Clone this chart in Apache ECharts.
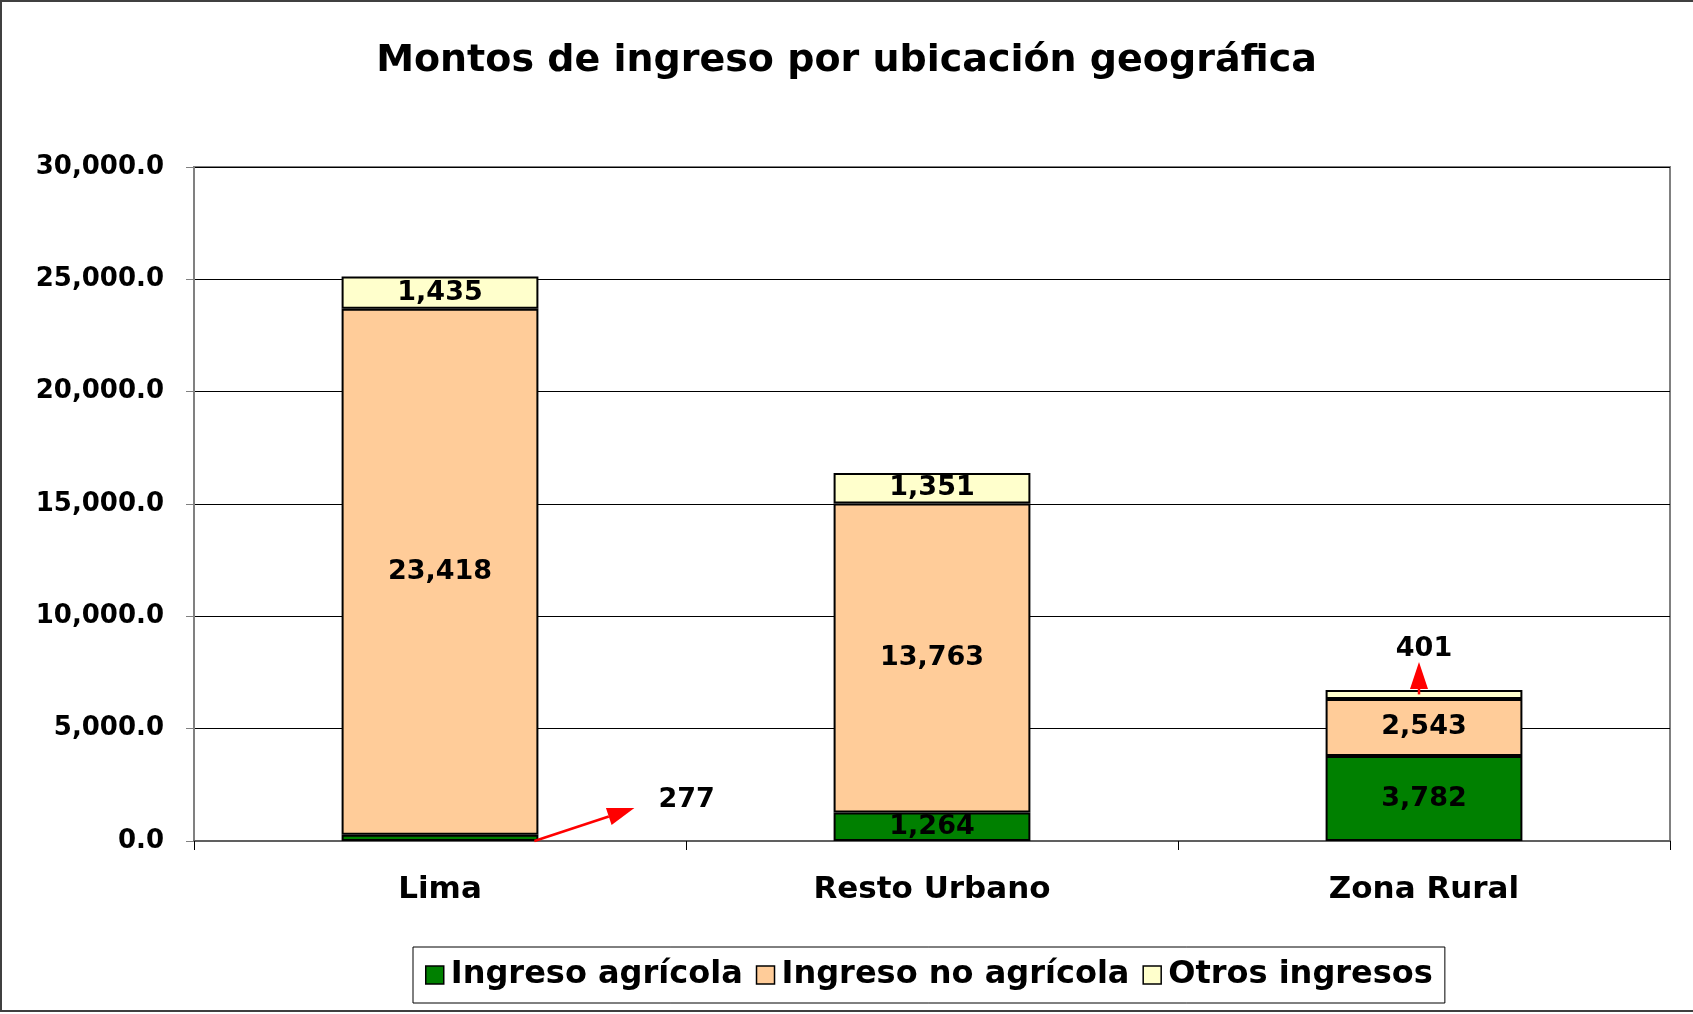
<!DOCTYPE html>
<html>
<head>
<meta charset="utf-8">
<title>Montos de ingreso por ubicación geográfica</title>
<script src="https://cdn.jsdelivr.net/npm/echarts@6/dist/echarts.min.js"></script>
<style>
  html, body { margin: 0; padding: 0; background: #fff; }
  #main { width: 1693px; height: 1014px; }
</style>
</head>
<body>
<div id="main"></div>
<script type="text/javascript">
// datos
var categories = ['Lima', 'Resto Urbano', 'Zona Rural'];
var ingresoAgricola = [277, 1264, 3782];
var ingresoNoAgricola = [23418, 13763, 2543];
var otrosIngresos = [1435, 1351, 401];
var seriesNames = ['Ingreso agrícola', 'Ingreso no agrícola', 'Otros ingresos'];
var yMin = 0, yMax = 30000, yStep = 5000;

var FONT = 'DejaVu Sans';

function fmt(v) {
    return Number(v).toLocaleString('en-US');
}

var labelBase = {
    show: true,
    position: 'inside',
    color: '#000',
    fontFamily: FONT,
    fontWeight: 'bold',
    fontSize: 27,
    formatter: function (p) { return fmt(p.value); }
};

// Lima agricola: etiqueta afuera (se dibuja flecha aparte)
var agricolaData = ingresoAgricola.map(function (v, i) {
    if (i === 0) {
        return { value: v, label: { position: [345, -35], align: 'center', verticalAlign: 'middle' } };
    }
    return v;
});
// Zona Rural otros: etiqueta arriba
var otrosData = otrosIngresos.map(function (v, i) {
    if (i === 2) {
        return { value: v, label: { position: 'top', distance: 27 } };
    }
    return v;
});

var colors = ['#008000', '#FFCC99', '#FFFFCC'];

var chart = echarts.init(document.getElementById('main'));

var option = {
    animation: false,
    backgroundColor: '#fff',
    title: {
        text: 'Montos de ingreso por ubicación geográfica',
        left: 'center',
        top: 37,
        textStyle: { fontFamily: FONT, fontWeight: 'bold', fontSize: 38, color: '#000' }
    },
    legend: {
        data: seriesNames,
        left: 413,
        top: 947,
        padding: [12, 12, 12, 12],
        itemWidth: 18,
        itemHeight: 18,
        itemGap: 13,
        icon: 'rect',
        backgroundColor: '#fff',
        borderColor: '#000',
        borderWidth: 1,
        itemStyle: { borderColor: '#000', borderWidth: 1.5 },
        textStyle: { fontFamily: FONT, fontWeight: 'bold', fontSize: 32, color: '#000', padding: [0, 0, 0, 2] }
    },
    grid: {
        left: 194, right: 23, top: 167, bottom: 173,
        show: true,
        borderColor: '#808080',
        borderWidth: 2,
        backgroundColor: '#fff',
        containLabel: false,
        outerBoundsMode: 'none'
    },
    xAxis: {
        type: 'category',
        data: categories,
        axisLine: { lineStyle: { color: '#606060', width: 2 } },
        axisTick: { show: true, length: 9, lineStyle: { color: '#000', width: 1 } },
        axisLabel: { margin: 33, color: '#000', fontFamily: FONT, fontWeight: 'bold', fontSize: 31 }
    },
    yAxis: {
        type: 'value',
        min: yMin,
        max: yMax,
        interval: yStep,
        axisLine: { show: true, lineStyle: { color: '#808080', width: 2 } },
        axisTick: { show: true, length: 8, lineStyle: { color: '#808080', width: 1 } },
        splitLine: { lineStyle: { color: '#000', width: 1 } },
        axisLabel: {
            margin: 30,
            color: '#000',
            fontFamily: FONT,
            fontWeight: 'bold',
            fontSize: 26,
            formatter: function (v) {
                return v.toLocaleString('en-US', { minimumFractionDigits: 1, maximumFractionDigits: 1 });
            }
        }
    },
    series: [{
        name: seriesNames[0],
        type: 'bar',
        stack: 'total',
        barWidth: '40%',
        data: agricolaData,
        itemStyle: { color: colors[0], borderColor: '#000', borderWidth: 2 },
        label: labelBase
    }, {
        name: seriesNames[1],
        type: 'bar',
        stack: 'total',
        barWidth: '40%',
        data: ingresoNoAgricola,
        itemStyle: { color: colors[1], borderColor: '#000', borderWidth: 2 },
        label: labelBase
    }, {
        name: seriesNames[2],
        type: 'bar',
        stack: 'total',
        barWidth: '40%',
        data: otrosData,
        itemStyle: { color: colors[2], borderColor: '#000', borderWidth: 2 },
        label: labelBase
    }]
};

chart.setOption(option);

// flechas rojas de las etiquetas
function arrow(x1, y1, x2, y2) {
    var ang = Math.atan2(y2 - y1, x2 - x1);
    var len = 27, w = 9;
    var bx = x2 - len * Math.cos(ang), by = y2 - len * Math.sin(ang);
    var nx = -Math.sin(ang) * w, ny = Math.cos(ang) * w;
    return [{
        type: 'line',
        shape: { x1: x1, y1: y1, x2: bx, y2: by },
        style: { stroke: '#FF0000', lineWidth: 2.5 },
        z: 100
    }, {
        type: 'polygon',
        shape: { points: [[x2, y2], [bx + nx, by + ny], [bx - nx, by - ny]] },
        style: { fill: '#FF0000' },
        z: 100
    }];
}

var c0 = chart.convertToPixel({ xAxisIndex: 0, yAxisIndex: 0 }, [0, 0]);
var c1 = chart.convertToPixel({ xAxisIndex: 0, yAxisIndex: 0 }, [1, 0]);
var halfBar = (c1[0] - c0[0]) * 0.2;

var totRural = ingresoAgricola[2] + ingresoNoAgricola[2] + otrosIngresos[2];
var pr = chart.convertToPixel({ xAxisIndex: 0, yAxisIndex: 0 }, [2, totRural - otrosIngresos[2] / 2]);
var prTop = chart.convertToPixel({ xAxisIndex: 0, yAxisIndex: 0 }, [2, totRural]);

var graphics = [{
    type: 'rect',
    shape: { x: 1, y: 1, width: 1720, height: 1010 },
    style: { fill: null, stroke: '#404040', lineWidth: 2 },
    silent: true
}];
graphics = graphics.concat(arrow(c0[0] + halfBar - 4, c0[1], c0[0] + halfBar + 96, c0[1] - 33));
graphics = graphics.concat(arrow(pr[0] - 5, pr[1], pr[0] - 5, prTop[1] - 28));

chart.setOption({ graphic: graphics });
</script>
</body>
</html>
